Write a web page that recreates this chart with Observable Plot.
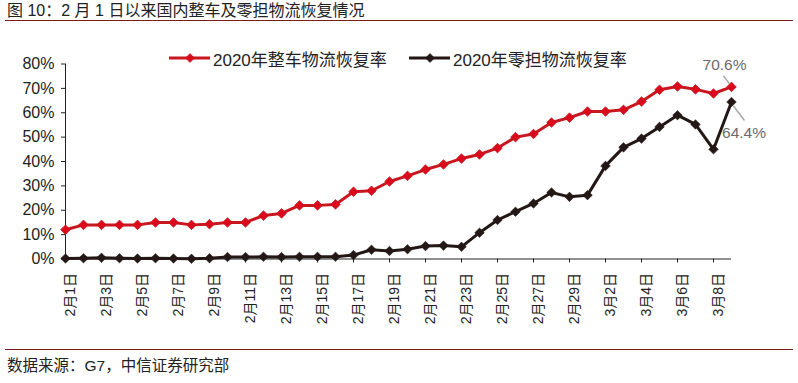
<!DOCTYPE html>
<html>
<head>
<meta charset="utf-8">
<script src="https://cdn.jsdelivr.net/npm/d3@7"></script>
<script src="https://cdn.jsdelivr.net/npm/@observablehq/plot@0.6"></script>
<style>
  html, body { margin: 0; padding: 0; background: #fff; }
  body { width: 798px; height: 383px; position: relative; overflow: hidden;
         font-family: "Liberation Sans", "Noto Sans CJK SC", sans-serif; color: #222; }
  #title { position: absolute; left: 5px; top: 0; width: 786px; height: 20px;
           border-bottom: 1.5px solid #7a1c1c; font-size: 16px; line-height: 22px; padding-left: 2px; }
  #chart { position: absolute; left: 0; top: 25px; }
  #source { position: absolute; left: 5px; top: 349px; width: 786px;
            border-top: 1.5px solid #7a1c1c; font-size: 15.5px; line-height: 22px; padding: 5px 0 0 2px; }
  .leg { position: absolute; top: 47px; height: 22px; display: flex; align-items: center;
         font-size: 17px; color: #222; white-space: nowrap; }
  .leg svg { margin-right: 3px; }
</style>
</head>
<body>
<div id="title">图 10：2 月 1 日以来国内整车及零担物流恢复情况</div>
<div class="leg" id="leg1" style="left:169px"></div>
<div class="leg" id="leg2" style="left:409px"></div>
<div id="chart"></div>
<div id="source">数据来源：G7，中信证券研究部</div>
<script>
// ---- data ----
const dates = [
  "2月1日","2月2日","2月3日","2月4日","2月5日","2月6日","2月7日","2月8日","2月9日","2月10日",
  "2月11日","2月12日","2月13日","2月14日","2月15日","2月16日","2月17日","2月18日","2月19日","2月20日",
  "2月21日","2月22日","2月23日","2月24日","2月25日","2月26日","2月27日","2月28日","2月29日",
  "3月1日","3月2日","3月3日","3月4日","3月5日","3月6日","3月7日","3月8日","3月9日"
];
const seriesNames = ["2020年整车物流恢复率", "2020年零担物流恢复率"];
const fullTruck = [12, 14, 14, 14, 14, 15, 15, 14, 14.3, 15, 15, 17.8, 18.7, 22, 22, 22.4, 27.6, 28, 31.8, 34.1,
  36.7, 38.8, 41.2, 42.9, 45.5, 50, 51.3, 56, 58, 60.5, 60.5, 61.2, 64.6, 69.4, 70.8, 69.6, 67.9, 70.6];
const lessTruck = [0.2, 0.3, 0.5, 0.3, 0.2, 0.3, 0.2, 0.1, 0.3, 0.8, 0.8, 0.9, 0.8, 0.9, 0.9, 0.9, 1.6, 3.8, 3.3, 4.0,
  5.3, 5.5, 5.0, 10.8, 16.0, 19.4, 22.8, 27.3, 25.5, 26.2, 38.2, 45.8, 49.4, 54.2, 59.0, 55.2, 45.0, 64.4];
const yTicks = [0, 10, 20, 30, 40, 50, 60, 70, 80];
const xTickIdx = dates.map((d, i) => i).filter(i => i % 2 === 0);

const RED_LINE = "#C8171E", RED_FILL = "#DA0A1C", BLACK = "#231815", GRAY = "#6b6b6b";

const rows = dates.map((d, i) => ({ i, date: d, full: fullTruck[i], ltl: lessTruck[i] }));
const last = rows[rows.length - 1];

const diamond = { draw(ctx, size) { const r = Math.sqrt(size / Math.PI);
  ctx.moveTo(0, -r); ctx.lineTo(r, 0); ctx.lineTo(0, r); ctx.lineTo(-r, 0); ctx.closePath(); } };
const leaderUp = { draw(ctx) { ctx.moveTo(-8, -11); ctx.lineTo(-2, -3); } };
const leaderDown = { draw(ctx) { ctx.moveTo(2, 4); ctx.lineTo(13, 18.5); } };

const chart = Plot.plot({
  width: 798, height: 322,
  marginLeft: 65, marginRight: 67, marginTop: 38.5, marginBottom: 88.5,
  style: { fontFamily: "'Liberation Sans','Noto Sans CJK SC',sans-serif", color: "#222", background: "transparent" },
  x: { type: "linear", domain: [0, dates.length - 1] },
  y: { domain: [0, 80] },
  marks: [
    Plot.axisY({ ticks: yTicks, tickFormat: d => d + "%", tickSize: 4, tickPadding: 7, fontSize: 16, label: null, stroke: "#222" }),
    Plot.axisX({ ticks: xTickIdx, tickSize: 4, tickFormat: () => "", label: null, stroke: "#222" }),
    Plot.axisX({ ticks: xTickIdx, tickSize: 0, tickPadding: 14, tickRotate: -90, tickFormat: i => dates[i], fontSize: 14, dx: 5, label: null }),
    Plot.ruleX([0], { y1: 0, y2: 80, stroke: "#222", strokeWidth: 1 }),
    Plot.ruleY([0], { stroke: "#222", strokeWidth: 1 }),
    Plot.line(rows, { x: "i", y: "ltl", stroke: BLACK, strokeWidth: 3 }),
    Plot.dot(rows, { x: "i", y: "ltl", r: 4.8, symbol: diamond, fill: BLACK, stroke: BLACK, strokeWidth: 0.5 }),
    Plot.line(rows, { x: "i", y: "full", stroke: RED_LINE, strokeWidth: 3 }),
    Plot.dot(rows, { x: "i", y: "full", r: 4.8, symbol: diamond, fill: RED_FILL, stroke: RED_LINE, strokeWidth: 0.8 }),
    Plot.dot([last], { x: "i", y: "full", r: 1, symbol: leaderUp, fill: "none", stroke: "#a8a8a8", strokeWidth: 1.5 }),
    Plot.dot([last], { x: "i", y: "ltl", r: 1, symbol: leaderDown, fill: "none", stroke: "#a8a8a8", strokeWidth: 1.5 }),
    Plot.text([last], { x: "i", y: "full", text: d => d.full.toFixed(1) + "%", dx: -7, dy: -22, fontSize: 15.5, fill: GRAY }),
    Plot.text([last], { x: "i", y: "ltl", text: d => d.ltl.toFixed(1) + "%", dx: 12.5, dy: 31, fontSize: 15.5, fill: GRAY })
  ]
});
document.getElementById("chart").appendChild(chart);

// legend
function swatch(color, fill) {
  const ns = "http://www.w3.org/2000/svg";
  const s = document.createElementNS(ns, "svg");
  s.setAttribute("width", 41); s.setAttribute("height", 12);
  s.innerHTML = `<line x1="0" y1="6" x2="41" y2="6" stroke="${color}" stroke-width="3"/>` +
    `<path d="M21,1.5L25.5,6L21,10.5L16.5,6Z" fill="${fill}" stroke="${color}" stroke-width="0.6"/>`;
  return s;
}
[[ "leg1", RED_LINE, RED_FILL, seriesNames[0] ], [ "leg2", BLACK, BLACK, seriesNames[1] ]].forEach(([id, c, f, name]) => {
  const el = document.getElementById(id);
  el.appendChild(swatch(c, f));
  const t = document.createElement("span"); t.textContent = name; el.appendChild(t);
});
</script>
</body>
</html>
